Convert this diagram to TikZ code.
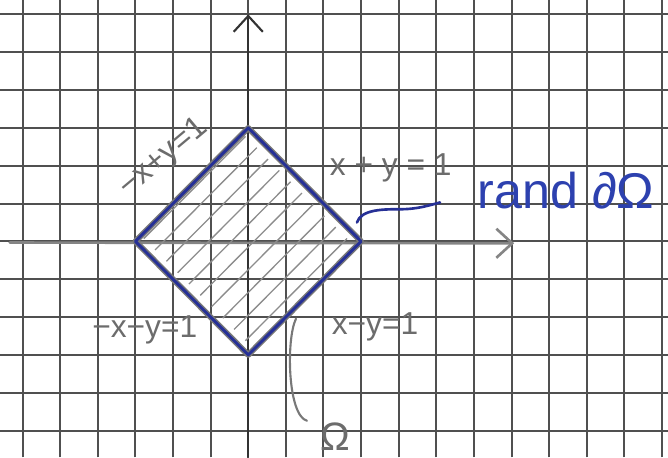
\documentclass[tikz,border=0pt]{standalone}
\usepackage{fontspec}
\setmainfont{Liberation Sans}
\usetikzlibrary{arrows.meta}
\definecolor{penblue}{RGB}{38,48,150}
\definecolor{inkblue}{RGB}{45,65,175}
\definecolor{pencil}{RGB}{120,120,120}
\definecolor{gridgray}{RGB}{80,80,80}

\begin{document}
\begin{tikzpicture}[x=5mm, y=5.03mm,
  gridline/.style={draw=gridgray, line width=0.75pt},
  axis/.style={line width=0.8pt, line cap=round, -{Straight Barb[length=6pt, width=11pt]}},
  hatch/.style={draw=pencil!85, line width=0.5pt, shorten <=3pt, shorten >=3pt},
  rimpencil/.style={draw=pencil, line width=2.2pt, line join=round},
  rim/.style={draw=penblue, line width=1.1pt, line join=round},
  lbl/.style={text=pencil!90!black, font=\fontsize{12}{14}\selectfont, inner sep=1pt},
  bluelbl/.style={text=inkblue, font=\fontsize{19}{22}\selectfont, inner sep=1pt},
  leader/.style={line width=1pt, line cap=round}
]
  \useasboundingbox (-6.6,-5.71) rectangle (11.16,6.38);
  %% squared paper, one line per unit
  \foreach \i in {-6,...,11}
    \draw[gridline] (\i,-5.71) -- (\i,6.38);
  \foreach \j in {-5,...,6}
    \draw[gridline] (-6.6,\j) -- (11.16,\j);

  %% axes
  \draw[axis, draw=black!80] (0,-5.71) -- (0,6.0);
  \draw[axis, draw=pencil!90, line width=1pt] (-6.34,-0.03) -- (7.07,-0.05);

  %% corners of the square |x|+|y|=1
  \coordinate (top)    at (0,3);
  \coordinate (right)  at (3,0);
  \coordinate (bottom) at (0,-3);
  \coordinate (left)   at (-3,0);

  %% hatching inside (lines parallel to -x+y=1)
  \foreach \b in {-2.55,-1.95,...,2.9}
    \draw[hatch] ({-(3+\b)/2},{(\b-3)/2}) -- ({(3-\b)/2},{(3+\b)/2});

  %% boundary: pencil first, then blue pen
  \draw[rimpencil] (top) -- (right) -- (bottom) -- (left) -- cycle;
  \draw[rim] (top) -- (right) -- (bottom) -- (left) -- cycle;

  %% edge equations
  \node[lbl, rotate=40] (lblNW) at (-2.25,2.2) {−x+y=1};
  \node[lbl]            (lblNE) at (3.79,1.93)  {x + y = 1};
  \node[lbl]            (lblSW) at (-2.75,-2.35) {−x−y=1};
  \node[lbl]            (lblSE) at (3.37,-2.25) {x−y=1};

  %% boundary label with pen leader
  \node[bluelbl] (rand) at (8.45,1.35) {rand ∂Ω};
  \coordinate (randfoot) at (2.89,0.50);
  \coordinate (randtail) at (5.10,1.03);
  \draw[leader, draw=penblue] (randfoot) .. controls (3.0,0.85) and (3.6,0.85) .. (4.03,0.85)
    .. controls (4.5,0.85) and (4.8,0.95) .. (randtail);

  %% domain label with pencil leader
  \node[lbl, font=\fontsize{15}{18}\selectfont] (omega) at (2.31,-5.17) {Ω};
  \coordinate (omegafoot) at (1.27,-2.04);
  \coordinate (omegatail) at (1.56,-4.74);
  \draw[leader, draw=pencil, line width=0.8pt] (omegafoot) .. controls (1.0,-2.6) and (1.05,-4.6) .. (omegatail);
\end{tikzpicture}
\end{document}
